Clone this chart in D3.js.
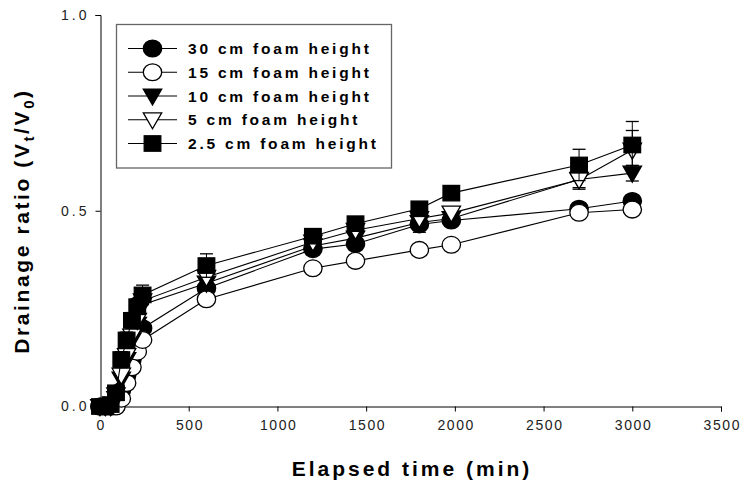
<!DOCTYPE html>
<html>
<head>
<meta charset="utf-8">
<script src="https://cdn.jsdelivr.net/npm/d3@7"></script>
<style>
  html, body { margin: 0; padding: 0; background: #fff; }
  svg { display: block; font-family: "Liberation Sans", Arial, sans-serif; }
</style>
</head>
<body>
<svg id="chart" width="743" height="486"></svg>
<script>
// ---------- data ----------
const times = [0, 30, 60, 90, 120, 150, 180, 210, 240, 600, 1200, 1440, 1800, 1980, 2700, 3000];
const seriesNames = ["30 cm foam height", "15 cm foam height", "10 cm foam height", "5 cm foam height", "2.5 cm foam height"];
const seriesSymbols = ["circleFilled", "circleOpen", "triDownFilled", "triDownOpen", "squareFilled"];
const h30  = [0, 0, 0, 0.01, 0.04, 0.08, 0.12, 0.16, 0.20, 0.302, 0.402, 0.415, 0.465, 0.475, 0.505, 0.525];
const h15  = [0, 0, 0, 0, 0.02, 0.06, 0.10, 0.14, 0.17, 0.274, 0.353, 0.372, 0.400, 0.413, 0.495, 0.503];
const h10  = [0, 0, 0, 0.02, 0.07, 0.12, 0.17, 0.21, 0.26, 0.315, 0.410, 0.430, 0.470, 0.480, 0.580, 0.596];
const h5   = [0, 0, 0, 0.03, 0.08, 0.13, 0.18, 0.22, 0.27, 0.330, 0.420, 0.450, 0.480, 0.494, 0.579, 0.655];
const h25  = [0, 0, 0.005, 0.035, 0.12, 0.17, 0.22, 0.255, 0.285, 0.360, 0.435, 0.467, 0.505, 0.545, 0.617, 0.668];
const e30  = [0, 0, 0, 0, 0, 0, 0, 0, 0, 0.01, 0, 0, 0.02, 0, 0, 0];
const e15  = [0, 0, 0, 0, 0, 0, 0, 0, 0, 0, 0, 0, 0, 0, 0, 0];
const e10  = [0, 0, 0, 0, 0, 0, 0, 0, 0, 0, 0, 0, 0, 0, 0.025, 0.02];
const e5   = [0, 0, 0, 0, 0, 0, 0, 0, 0, 0, 0, 0, 0, 0, 0.02, 0.05];
const e25  = [0, 0, 0, 0.005, 0.02, 0.02, 0.02, 0.02, 0.025, 0.03, 0, 0, 0, 0, 0.04, 0.06];
const xTicks = [0, 500, 1000, 1500, 2000, 2500, 3000, 3500];
const yTicks = [0.0, 0.5, 1.0];

const seriesValues = [h30, h15, h10, h5, h25];
const seriesErrors = [e30, e15, e10, e5, e25];

// ---------- setup ----------
const svg = d3.select("#chart");
const x = d3.scaleLinear().domain([0, 3500]).range([100, 721]);
const y = d3.scaleLinear().domain([0, 1]).range([406.5, 15]);

// axes
const xAxis = d3.axisBottom(x).tickValues(xTicks).tickSize(5).tickPadding(9).tickFormat(d3.format("d"));
const yAxis = d3.axisLeft(y).tickValues(yTicks).tickSize(5).tickPadding(6).tickFormat(d3.format(".1f"));

const gx = svg.append("g").attr("transform", "translate(0,406.5)").call(xAxis);
const gy = svg.append("g").attr("transform", "translate(100.5,0)").call(yAxis);
[gx, gy].forEach(g => {
  g.select(".domain").attr("stroke", "#000").attr("stroke-width", 1);
  g.selectAll(".tick line").attr("stroke", "#000").attr("stroke-width", 1);
  g.selectAll(".tick text").attr("fill", "#222").style("font-size", "14px")
    .style("font-family", "'Liberation Sans', Arial, sans-serif");
});
gx.selectAll(".tick text").style("letter-spacing", "1.6px").attr("dx", "0.8px");
gy.selectAll(".tick text").style("letter-spacing", "3px");

// symbol drawing
function drawSymbol(g, type, cx, cy) {
  const sw = 1.3;
  if (type === "circleFilled" || type === "circleOpen") {
    g.append("ellipse").attr("cx", cx).attr("cy", cy).attr("rx", 9.2).attr("ry", 8.4)
      .attr("fill", type === "circleFilled" ? "#000" : "#fff").attr("stroke", "#000").attr("stroke-width", sw);
  } else if (type === "triDownFilled" || type === "triDownOpen") {
    const w = 9.2, h = 8.2;
    g.append("path").attr("d", `M${cx - w},${cy - h * 0.85}L${cx + w},${cy - h * 0.85}L${cx},${cy + h * 1.1}Z`)
      .attr("fill", type === "triDownFilled" ? "#000" : "#fff").attr("stroke", "#000").attr("stroke-width", sw)
      .attr("stroke-linejoin", "miter");
  } else {
    g.append("rect").attr("x", cx - 8.3).attr("y", cy - 7.7).attr("width", 16.6).attr("height", 15.4)
      .attr("fill", "#000").attr("stroke", "#000").attr("stroke-width", sw);
  }
}

// series
const plot = svg.append("g");
seriesValues.forEach((vals, si) => {
  const g = plot.append("g");
  const pts = times.map((t, i) => ({ t, v: vals[i], e: seriesErrors[si][i] }));
  g.append("path").datum(pts)
    .attr("d", d3.line().x(d => x(d.t)).y(d => y(d.v)))
    .attr("fill", "none").attr("stroke", "#000").attr("stroke-width", 1.1);
  pts.filter(d => d.e > 0).forEach(d => {
    const xx = x(d.t);
    g.append("line").attr("x1", xx).attr("x2", xx).attr("y1", y(d.v - d.e)).attr("y2", y(d.v + d.e))
      .attr("stroke", "#000").attr("stroke-width", 1);
    [d.v - d.e, d.v + d.e].forEach(v => {
      g.append("line").attr("x1", xx - 6.5).attr("x2", xx + 6.5).attr("y1", y(v)).attr("y2", y(v))
        .attr("stroke", "#000").attr("stroke-width", 1.3);
    });
  });
  pts.forEach(d => drawSymbol(g, seriesSymbols[si], x(d.t), y(d.v)));
});

// legend
const lg = svg.append("g");
lg.append("rect").attr("x", 116.5).attr("y", 24.5).attr("width", 275).attr("height", 143.5)
  .attr("fill", "#fff").attr("stroke", "#666").attr("stroke-width", 1.3);
seriesNames.forEach((name, i) => {
  const ry = 48.5 + i * 23.75;
  lg.append("line").attr("x1", 128).attr("x2", 177).attr("y1", ry).attr("y2", ry)
    .attr("stroke", "#000").attr("stroke-width", 1.1);
  drawSymbol(lg, seriesSymbols[i], 152.5, ry);
  lg.append("text").attr("x", 188).attr("y", ry + 5.6).text(name)
    .style("font-size", "15.5px").style("font-weight", "bold").style("letter-spacing", "2.8px").attr("fill", "#000");
});

// axis titles
svg.append("text").attr("x", 412).attr("y", 476).attr("text-anchor", "middle")
  .style("font-size", "21px").style("font-weight", "bold").style("letter-spacing", "3px")
  .text("Elapsed time (min)");

const yt = svg.append("text").attr("transform", "translate(29,221) rotate(-90)").attr("text-anchor", "middle")
  .style("font-size", "21px").style("font-weight", "bold").style("letter-spacing", "2.6px");
yt.append("tspan").text("Drainage ratio (V");
yt.append("tspan").attr("dy", 5).style("font-size", "15px").text("t");
yt.append("tspan").attr("dy", -5).text("/V");
yt.append("tspan").attr("dy", 5).style("font-size", "15px").text("0");
yt.append("tspan").attr("dy", -5).text(")");
</script>
</body>
</html>
